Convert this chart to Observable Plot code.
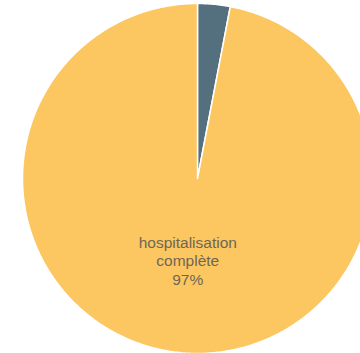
<!DOCTYPE html>
<html>
<head>
<meta charset="utf-8">
<script src="https://cdn.jsdelivr.net/npm/d3@7"></script>
<script src="https://cdn.jsdelivr.net/npm/@observablehq/plot@0.6"></script>
<style>
  html, body { margin: 0; padding: 0; background: #ffffff; }
  #chart { width: 360px; height: 353px; overflow: hidden; }
</style>
</head>
<body>
<div id="chart"></div>
<script>
// Data
const categories = ["autre", "hospitalisation complète"];
const values = [3, 97];
const labels = ["", "hospitalisation\ncomplète\n97%"];
const colors = ["#546f7e", "#fcc661"];

const W = 360, H = 353;
const cx = 197, cy = 178, R = 175;

const arcs = d3.pie().sort(null).value(d => d.value)(
  categories.map((c, i) => ({category: c, value: values[i], label: labels[i]}))
);

// Build polygon points for each slice (unit radius, y up)
const pts = [];
arcs.forEach(a => {
  const n = Math.max(2, Math.ceil((a.endAngle - a.startAngle) / 0.01));
  pts.push({category: a.data.category, x: 0, y: 0});
  for (let k = 0; k <= n; k++) {
    const t = a.startAngle + (a.endAngle - a.startAngle) * k / n;
    pts.push({category: a.data.category, x: Math.sin(t), y: Math.cos(t)});
  }
  pts.push({category: a.data.category, x: 0, y: 0});
});

const labelPts = arcs.filter(a => a.data.label).map(a => {
  const m = (a.startAngle + a.endAngle) / 2;
  const r = 0.47;
  return {x: r * Math.sin(m), y: r * Math.cos(m), text: a.data.label};
});

const chart = Plot.plot({
  width: W,
  height: H,
  margin: 0,
  x: {domain: [-cx / R, (W - cx) / R], axis: null},
  y: {domain: [-(H - cy) / R, cy / R], axis: null},
  color: {domain: categories, range: colors},
  marks: [
    Plot.line(pts, {x: "x", y: "y", z: "category", fill: "category", stroke: "white", strokeWidth: 1.5, curve: "linear-closed"}),
    Plot.text(labelPts, {x: "x", y: "y", text: "text", fill: "#6f6755", fontSize: 15.5, lineHeight: 1.2, dx: -2, fontFamily: "Liberation Sans, Arial, sans-serif"})
  ]
});
document.getElementById("chart").appendChild(chart);
</script>
</body>
</html>
